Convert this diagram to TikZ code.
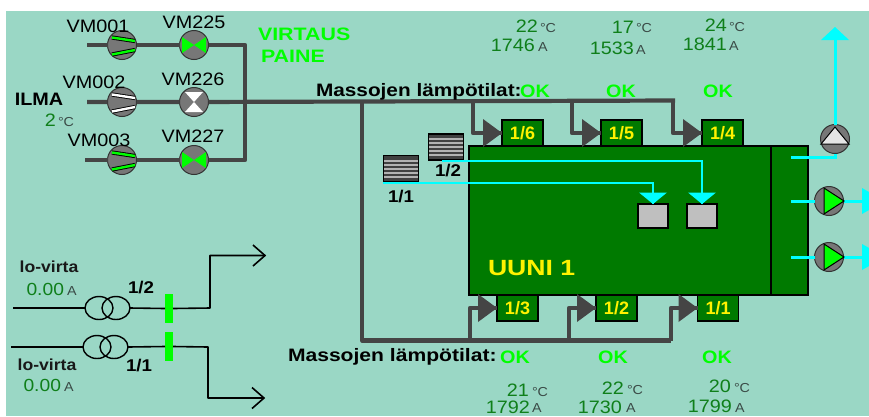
\documentclass[tikz,border=0pt]{standalone}
\usepackage{fontspec}
\setmainfont{Liberation Sans}
\definecolor{bgc}{HTML}{9AD7C5}
\definecolor{pipec}{HTML}{454545}
\definecolor{furn}{HTML}{007A00}
\definecolor{valc}{HTML}{0F7F1A}
\definecolor{unitc}{HTML}{3A4A46}
\definecolor{lime}{HTML}{00FF00}
\definecolor{cyn}{HTML}{00FFFF}
\definecolor{sym}{HTML}{777777}
\usetikzlibrary{shapes.geometric,calc}
\tikzset{
  x=1pt,y=-1pt,
  txt/.style={inner sep=0pt,outer sep=0pt,transform shape,xscale=1.1},
  vmlabel/.style={txt,font=\fontsize{18}{18}\selectfont,text=black},
  boldlab/.style={txt,font=\fontsize{18}{18}\selectfont\bfseries,text=black},
  okl/.style={txt,font=\fontsize{18}{18}\selectfont\bfseries,text=lime},
  flowlab/.style={txt,xscale=1.08,font=\fontsize{18}{18}\selectfont\bfseries,text=lime,anchor=west},
  numlab/.style={txt,font=\fontsize{18}{18}\selectfont,text=valc,anchor=east},
  unitlab/.style={txt,font=\fontsize{13}{13}\selectfont,text=unitc,anchor=west},
  smalllab/.style={txt,font=\fontsize{17}{17}\selectfont\bfseries,text=black},
  lolab/.style={txt,font=\fontsize{16}{16}\selectfont\bfseries,text=black!90},
  pipe/.style={draw=pipec,line width=4.2pt,line join=round},
  thinwire/.style={draw=black,line width=1.6pt},
  cline/.style={draw=cyn,line width=1.6pt},
  cthick/.style={draw=cyn,line width=3pt},
  symb/.style={circle,draw=black!80,fill=sym,line width=1pt,minimum size=29pt,inner sep=0pt,outer sep=0pt},
  tagbox/.style={draw=black,fill=furn,line width=1.6pt,minimum width=41pt,minimum height=26pt,inner sep=0pt,outer sep=0pt,
     text=yellow,font=\fontsize{18}{18}\selectfont\bfseries},
  fbox/.style={draw=black,fill=furn,line width=1.6pt,inner sep=0pt,outer sep=0pt},
  greybox/.style={draw=black,fill=black!25,line width=1.6pt,minimum width=30pt,minimum height=24pt,inner sep=0pt,outer sep=0pt},
  grill/.style={draw=black,fill=black!75,line width=1.6pt,minimum width=35pt,minimum height=26pt,inner sep=0pt,outer sep=0pt},
  greenbar/.style={fill=lime,minimum width=8pt,minimum height=29pt,inner sep=0pt,outer sep=0pt},
  coilring/.style={ellipse,draw=black,line width=1.4pt,minimum width=28pt,minimum height=23pt,inner sep=0pt,outer sep=0pt},
}
\newcommand{\compbands}[2]{%
  \foreach \wd/\cc in {4.2/black,2.4/#2}{
    \draw[line width=\wd pt,draw=\cc] ($(#1)+(-10,-7.5)$) -- ($(#1)+(13,-4)$);
    \draw[line width=\wd pt,draw=\cc] ($(#1)+(-10,9.5)$) -- ($(#1)+(13,5)$);
  }}
\newcommand{\valvetie}[1]{%
  \fill[lime] ($(#1.center)+(-12,-8)$) -- (#1.center) -- ($(#1.center)+(-12,8)$) -- cycle;
  \fill[lime] ($(#1.center)+(12,-8)$) -- (#1.center) -- ($(#1.center)+(12,8)$) -- cycle;}
\newcommand{\tipr}[1]{\fill[pipec] ($(#1.west)+(-19,-14)$) -- (#1.west) -- ($(#1.west)+(-19,14)$) -- cycle;}
\newcommand{\pumpr}[1]{\filldraw[fill=lime,draw=black,line width=1pt] ($(#1)+(-5,-13)$) -- ($(#1)+(15,0)$) -- ($(#1)+(-5,13)$) -- cycle;}
\newcommand{\stripes}[1]{\foreach \k in {-8,-4,...,8}{\draw[line width=2pt,draw=black!30] ($(#1.west)+(0.8,\k)$) -- ($(#1.east)+(-0.8,\k)$);}}
\begin{document}
\begin{tikzpicture}
\useasboundingbox (0,0) rectangle (869,416);
\fill[bgc] (6,11) rectangle (869,416);

% ---- air valves
\node[symb] (c1) at (122,45) {};
\node[symb] (c2) at (122,102) {};
\node[symb] (c3) at (122,160) {};
\node[symb] (v1) at (194,45) {};
\node[symb] (v2) at (194,102) {};
\node[symb] (v3) at (194,160) {};
\coordinate (a1) at (87,45);
\coordinate (a2) at (87,102);
\coordinate (a3) at (85,160);
\coordinate (j1) at (245,45);
\coordinate (j3) at (245,160);
\coordinate (jm) at (362,101.5);
\coordinate (jr) at (675,100.5);
\coordinate (jb) at (362,340.5);
\coordinate (br) at (671,340.5);
\coordinate (t6) at (473,101);
\coordinate (t5) at (572,101);
\coordinate (t4) at (673,101);
\coordinate (u3) at (470,340.5);
\coordinate (u2) at (569,340.5);
\coordinate (u1) at (671,340.5);
\draw[pipe] (a1) -- (c1) (c1) -- (v1) (v1) -- (j1) -- (j3) -- (v3) (v3) -- (c3) (c3) -- (a3);
\draw[pipe] (a2) -- (c2) (c2) -- (v2) (v2) -- (jm) -- (jr);
\draw[pipe] (jm) -- (jb) -- (br);
\compbands{c1}{lime}
\compbands{c2}{white}
\compbands{c3}{lime}
\valvetie{v1}
\valvetie{v3}
\fill[white] ($(v2.center)+(-9,-10)$) -- (v2.center) -- ($(v2.center)+(9,-10)$) -- cycle;
\fill[white] ($(v2.center)+(-9,10)$) -- (v2.center) -- ($(v2.center)+(9,10)$) -- cycle;

\node[vmlabel] (l1) at (98,26) {VM001};
\node[vmlabel] (l2) at (94,82) {VM002};
\node[vmlabel] (l3) at (99,140) {VM003};
\node[vmlabel] (l4) at (194,22) {VM225};
\node[vmlabel] (l5) at (193,79) {VM226};
\node[vmlabel] (l6) at (193,136) {VM227};
\node[flowlab] (virt) at (258,34) {VIRTAUS};
\node[flowlab] (pain) at (261,56) {PAINE};
\node[boldlab] (ilma) at (39,99) {ILMA};
\node[numlab] (t0) at (56,120) {2};
\node[unitlab] (t0u) at (58,122) {°C};

% ---- furnace
\node[fbox,minimum width=339pt,minimum height=149pt] (furnace) at (638.5,220.5) {};
\draw[line width=1.6pt,draw=black] (771,146) -- (771,295);
\node[txt,xscale=1.1,font=\fontsize{22}{22}\selectfont\bfseries,text=yellow,anchor=west] (uuni) at (488,268) {UUNI 1};

% ---- tags
\node[tagbox] (b6) at (522.5,133) {1/6};
\node[tagbox] (b5) at (621.5,133) {1/5};
\node[tagbox] (b4) at (722.5,133) {1/4};
\node[tagbox] (b3) at (517.5,308) {1/3};
\node[tagbox] (b2) at (616.5,308) {1/2};
\node[tagbox] (b1) at (718,308) {1/1};
\draw[pipe] (t6) |- (b6.west);
\draw[pipe] (t5) |- (b5.west);
\draw[pipe] (t4) |- (b4.west);
\draw[pipe] (u3) |- (b3.west);
\draw[pipe] (u2) |- (b2.west);
\draw[pipe] (u1) |- (b1.west);
\foreach \b in {b6,b5,b4,b3,b2,b1}{\tipr{\b}}

% ---- labels on the mains
\node[boldlab,anchor=west,xscale=1.05] (mt) at (316,92) {Massojen lämpötilat:};
\node[boldlab,anchor=west,xscale=1.065] (mb) at (288,357) {Massojen lämpötilat:};
\node[okl] (ok1) at (535,91) {OK};
\node[okl] (ok2) at (621,91) {OK};
\node[okl] (ok3) at (718,91) {OK};
\node[okl] (ok4) at (515,357) {OK};
\node[okl] (ok5) at (613,357) {OK};
\node[okl] (ok6) at (717,357) {OK};

% ---- readings
\node[numlab] (n1) at (538,26) {22};
\node[unitlab] (u01) at (540,28) {°C};
\node[numlab] (n2) at (535,45) {1746};
\node[unitlab] (u02) at (538,47) {A};
\node[numlab] (n3) at (634,27) {17};
\node[unitlab] (u03) at (636,28) {°C};
\node[numlab] (n4) at (634,48) {1533};
\node[unitlab] (u04) at (636,50) {A};
\node[numlab] (n5) at (727,25) {24};
\node[unitlab] (u05) at (729,27) {°C};
\node[numlab] (n6) at (727,44) {1841};
\node[unitlab] (u06) at (729,46) {A};
\node[numlab] (n7) at (529,390) {21};
\node[unitlab] (u07) at (532,392) {°C};
\node[numlab] (n8) at (530,407.5) {1792};
\node[unitlab] (u08) at (532,408.5) {A};
\node[numlab] (n9) at (624,388) {22};
\node[unitlab] (u09) at (627,390) {°C};
\node[numlab] (n10) at (622,407.5) {1730};
\node[unitlab] (u10) at (626,408.5) {A};
\node[numlab] (n11) at (731,386) {20};
\node[unitlab] (u11) at (734,388) {°C};
\node[numlab] (n12) at (732,406) {1799};
\node[unitlab] (u12) at (735,408) {A};

% ---- grills
\node[grill] (g2) at (446,147) {};
\stripes{g2}
\node[grill] (g1) at (401,168.5) {};
\stripes{g1}
\node[smalllab] (gl2) at (448,171) {1/2};
\node[smalllab] (gl1) at (401,197) {1/1};
\node[greybox] (s1) at (653,216) {};
\node[greybox] (s2) at (702,216) {};
\coordinate (g2o) at (442,161);
\coordinate (g1o) at (383,183);
\draw[cline] (g2o) -| (s2.north);
\draw[cline] (g1o) -| (s1.north);
\fill[cyn] ($(s1.north)+(-14,-11.5)$) -- (s1.north) -- ($(s1.north)+(14,-11.5)$) -- cycle;
\fill[cyn] ($(s2.north)+(-14,-11.5)$) -- (s2.north) -- ($(s2.north)+(14,-11.5)$) -- cycle;

% ---- pumps
\node[symb] (p1) at (835,139) {};
\node[symb] (p2) at (829,201) {};
\node[symb] (p3) at (829,257) {};
\coordinate (o1) at (791,157);
\coordinate (o2) at (791,201);
\coordinate (o3) at (791,257);
\coordinate (e1) at (835,35);
\coordinate (e2) at (866,201);
\coordinate (e3) at (866,257);
\draw[cthick] (o1) -| (p1.south);
\draw[cthick] (p1.north) -- (e1);
\draw[cthick] (o2) -- (p2.west);
\draw[cthick] (p2.east) -- (e2);
\draw[cthick] (o3) -- (p3.west);
\draw[cthick] (p3.east) -- (e3);
\fill[cyn] ($(e1)+(-14,5)$) -- ($(e1)+(0,-8)$) -- ($(e1)+(14,5)$) -- cycle;
\fill[cyn] ($(e2)+(-4,-13)$) -- ($(e2)+(3,-9)$) -- ($(e2)+(3,9)$) -- ($(e2)+(-4,13)$) -- cycle;
\fill[cyn] ($(e3)+(-4,-13)$) -- ($(e3)+(3,-9)$) -- ($(e3)+(3,9)$) -- ($(e3)+(-4,13)$) -- cycle;
\filldraw[fill=black!10,draw=black,line width=1pt] ($(p1)+(-14,5)$) -- ($(p1)+(0,-12)$) -- ($(p1)+(14,5)$) -- cycle;
\pumpr{p2}
\pumpr{p3}

% ---- current lines
\node[coilring] (ca1) at (99,308) {};
\node[coilring] (ca2) at (116,308) {};
\node[coilring] (cb1) at (97,347) {};
\node[coilring] (cb2) at (114,347) {};
\node[greenbar] (bar1) at (169,308.5) {};
\node[greenbar] (bar2) at (169,346.5) {};
\coordinate (w1) at (13,308);
\coordinate (w2) at (11,347);
\coordinate (k1) at (210,308);
\coordinate (k2) at (208,347);
\coordinate (h1) at (265,255.5);
\coordinate (h2) at (264,398);
\draw[thinwire] (w1) -- (ca1.west);
\draw[thinwire] (ca2.east) -- (bar1.west);
\draw[thinwire,line join=round] (bar1.east) -- (k1) |- (h1);
\draw[thinwire] (w2) -- (cb1.west);
\draw[thinwire] (cb2.east) -- (bar2.west);
\draw[thinwire,line join=round] (bar2.east) -- (k2) |- (h2);
\draw[thinwire,line join=miter] ($(h1)+(-12,-10.5)$) -- (h1) -- ($(h1)+(-12,10.5)$);
\draw[thinwire,line join=miter] ($(h2)+(-12,-10.5)$) -- (h2) -- ($(h2)+(-12,10.5)$);
\node[smalllab] (cl1) at (141,288) {1/2};
\node[smalllab] (cl2) at (139,366) {1/1};
\node[lolab] (lv1) at (49,267) {lo-virta};
\node[lolab] (lv2) at (47,365) {lo-virta};
\node[numlab,font=\fontsize{17.5}{17.5}\selectfont] (a01) at (64,289) {0.00};
\node[unitlab] (au1) at (67,291) {A};
\node[numlab,font=\fontsize{17.5}{17.5}\selectfont] (a02) at (61,385) {0.00};
\node[unitlab] (au2) at (64,387) {A};
\end{tikzpicture}
\end{document}
